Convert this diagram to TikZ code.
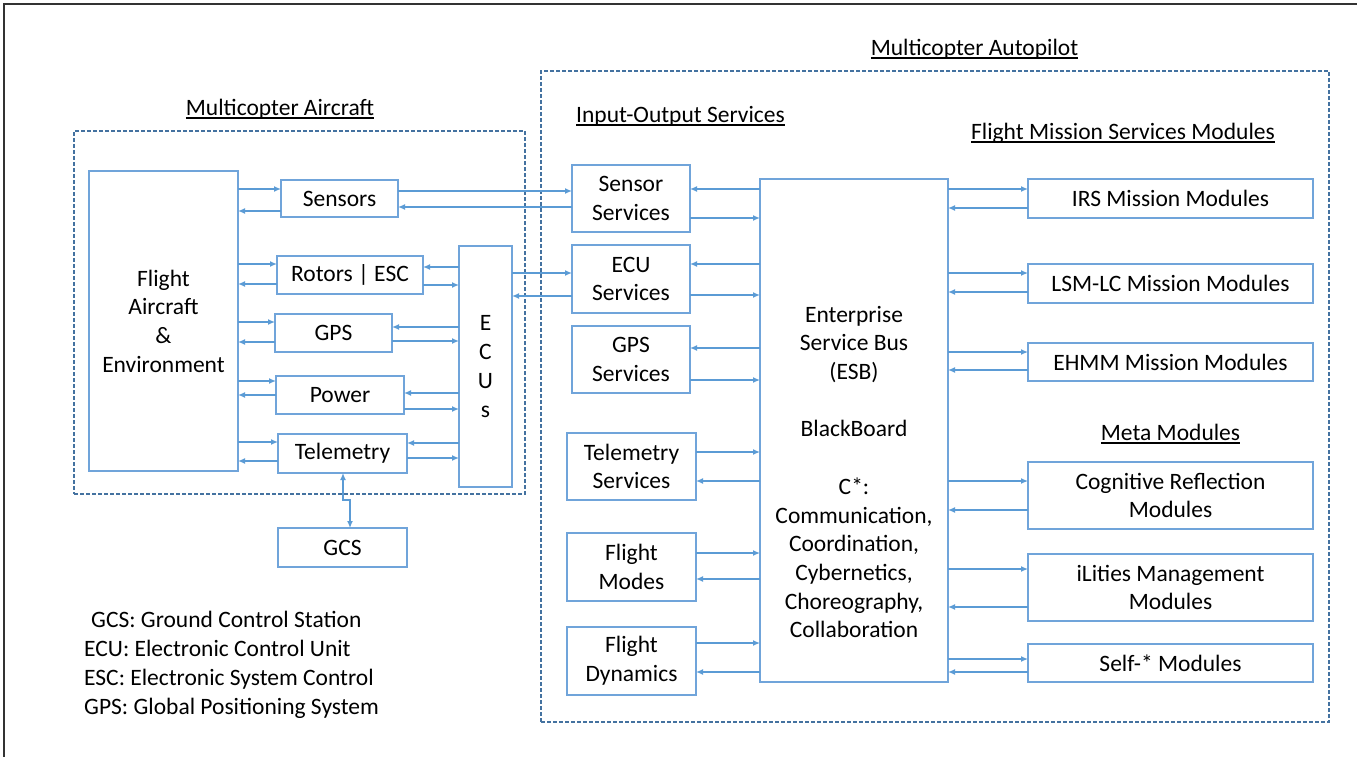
\documentclass[tikz,border=0pt]{standalone}
\usepackage{fontspec}
\setmainfont{Carlito}
\usetikzlibrary{arrows.meta}
\definecolor{bx}{RGB}{112,164,218}
\definecolor{ar}{RGB}{91,155,213}
\definecolor{dsh}{RGB}{68,114,160}
\newcommand\myul[1]{\setbox0\hbox{#1}\rlap{\raisebox{-3.5pt}{\rule{\wd0}{1.6pt}}}\box0}
\newcommand\mybox[6]{\node[box, minimum width={(#4-#2)*1pt}, minimum height={(#5-#3)*1pt}] (#1) at ({(#2+#4)/2},{(#3+#5)/2}) {#6};}
\newcommand\lnk[3]{\draw[arr] (#1 |- 0,#3) -- (#2 |- 0,#3);}
\begin{document}
\begin{tikzpicture}[x=1pt,y=-1pt, font=\fontsize{23.5}{28.7}\selectfont,
 box/.style={draw=bx, line width=1.3pt, inner sep=0pt, outer sep=0pt, align=center},
 arr/.style={draw=ar, line width=1.3pt, -{Latex[length=7pt,width=6pt]}},
 grp/.style={draw=dsh, line width=1.1pt, dash pattern=on 4pt off 2pt, inner sep=0pt, outer sep=0pt},
 ttl/.style={inner sep=0pt, anchor=base}]
\useasboundingbox (0,0) rectangle (1357,757);
\draw[line width=2.5pt, black!80] (1357,4) -- (4,4) -- (4,757);
% groups
\node[grp, minimum width=451pt, minimum height=363pt] (gA) at (299.5,312.5) {};
\node[grp, minimum width=788pt, minimum height=651pt] (gB) at (935,396.5) {};
% titles
\node[ttl] (tA) at (280,115.5) {\myul{Multicopter Aircraft}};
\node[ttl] (tB) at (974.5,55.5) {\myul{Multicopter Autopilot}};
\node[ttl] (tC) at (680.5,122.5) {\myul{Input-Output Services}};
\node[ttl] (tD) at (1123,139.5) {\myul{Flight Mission Services Modules}};
\node[ttl] (tE) at (1170.5,440.5) {\myul{Meta Modules}};
% boxes
\mybox{fae}{89}{171}{238}{471}{Flight\\Aircraft\\\&\\Environment}
\mybox{sen}{281}{180}{398}{217}{Sensors}
\mybox{rot}{277}{256}{423}{294}{Rotors | ESC}
\mybox{gps}{275}{314}{392}{352}{GPS}
\mybox{pow}{276}{376}{404}{414}{Power}
\mybox{tel}{278}{434}{407}{473}{Telemetry}
\mybox{gcs}{278}{528}{407}{567}{GCS}
\mybox{ecu}{459}{246}{512}{487}{E\\C\\U\\s}
\mybox{ss}{572}{165}{690}{232}{Sensor\\Services}
\mybox{es}{572}{245}{690}{313}{ECU\\Services}
\mybox{gs}{572}{326}{690}{393}{GPS\\Services}
\mybox{ts}{567}{433}{696}{500}{Telemetry\\Services}
\mybox{fm}{567}{533}{696}{601}{Flight\\Modes}
\mybox{fd}{567}{627}{696}{695}{Flight\\Dynamics}
\mybox{esb}{760}{179}{948}{682}{}
\node[align=center, inner sep=0pt] (esbt) at (854,472) {Enterprise\\Service Bus\\(ESB)\\\mbox{}\\BlackBoard\\\mbox{}\\C*:\\Communication,\\Coordination,\\Cybernetics,\\Choreography,\\Collaboration};
\mybox{irs}{1028}{179}{1313}{218}{IRS Mission Modules}
\mybox{lsm}{1028}{264}{1313}{303}{LSM-LC Mission Modules}
\mybox{ehm}{1028}{343}{1313}{381}{EHMM Mission Modules}
\mybox{cog}{1028}{462}{1313}{529}{Cognitive Reflection\\Modules}
\mybox{ili}{1028}{554}{1313}{621}{iLities Management\\Modules}
\mybox{slf}{1028}{644}{1313}{682}{Self-* Modules}
% legend
\node[ttl, anchor=base west] (l1) at (91,627) {GCS: Ground Control Station};
\node[ttl, anchor=base west] (l2) at (84,656) {ECU: Electronic Control Unit};
\node[ttl, anchor=base west] (l3) at (84,685) {ESC: Electronic System Control};
\node[ttl, anchor=base west] (l4) at (84,714) {GPS: Global Positioning System};
% aircraft links
\lnk{fae.east}{sen.west}{189} \lnk{sen.west}{fae.east}{211}
\lnk{fae.east}{rot.west}{264} \lnk{rot.west}{fae.east}{284}
\lnk{fae.east}{gps.west}{322} \lnk{gps.west}{fae.east}{342}
\lnk{fae.east}{pow.west}{381} \lnk{pow.west}{fae.east}{395}
\lnk{fae.east}{tel.west}{442} \lnk{tel.west}{fae.east}{461}
\lnk{ecu.west}{rot.east}{267} \lnk{rot.east}{ecu.west}{285}
\lnk{ecu.west}{gps.east}{327} \lnk{gps.east}{ecu.west}{341}
\lnk{ecu.west}{pow.east}{393} \lnk{pow.east}{ecu.west}{409}
\lnk{ecu.west}{tel.east}{443} \lnk{tel.east}{ecu.west}{458}
\lnk{sen.east}{ss.west}{191} \lnk{ss.west}{sen.east}{207}
\lnk{ecu.east}{es.west}{273} \lnk{es.west}{ecu.east}{296}
\draw[draw=ar, line width=1.3pt, {Latex[length=7pt,width=6pt]}-{Latex[length=7pt,width=6pt]}] (tel.south -| 343,0) -- (343,500) -- (350,500) -- (gcs.north -| 350,0);
% services links
\lnk{esb.west}{ss.east}{189} \lnk{ss.east}{esb.west}{218}
\lnk{esb.west}{es.east}{264} \lnk{es.east}{esb.west}{295}
\lnk{esb.west}{gs.east}{348} \lnk{gs.east}{esb.west}{380}
\lnk{ts.east}{esb.west}{452} \lnk{esb.west}{ts.east}{481}
\lnk{fm.east}{esb.west}{553} \lnk{esb.west}{fm.east}{579}
\lnk{fd.east}{esb.west}{643} \lnk{esb.west}{fd.east}{672}
% module links
\lnk{esb.east}{irs.west}{189} \lnk{irs.west}{esb.east}{208}
\lnk{esb.east}{lsm.west}{273} \lnk{lsm.west}{esb.east}{292}
\lnk{esb.east}{ehm.west}{352} \lnk{ehm.west}{esb.east}{370}
\lnk{esb.east}{cog.west}{481} \lnk{cog.west}{esb.east}{510}
\lnk{esb.east}{ili.west}{569} \lnk{ili.west}{esb.east}{607}
\lnk{esb.east}{slf.west}{659} \lnk{slf.west}{esb.east}{672}
\end{tikzpicture}
\end{document}
